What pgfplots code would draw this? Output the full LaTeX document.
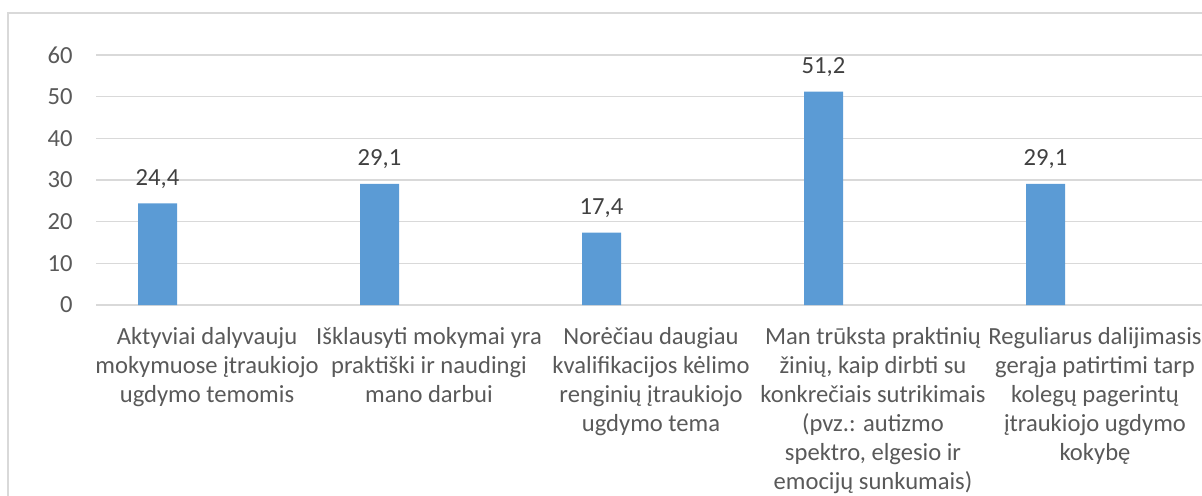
\documentclass[border=0pt]{standalone}
\usepackage{fontspec}
\setmainfont{Carlito}
\usepackage{pgfplots}
\pgfplotsset{compat=1.18}
\definecolor{barblue}{HTML}{5B9BD5}
\definecolor{gridgray}{HTML}{D9D9D9}
\definecolor{ticktext}{HTML}{595959}
\definecolor{labeltext}{HTML}{404040}
\begin{document}
\begin{tikzpicture}
\useasboundingbox (0pt,0pt) rectangle (601pt,247.5pt);
\draw[gridgray, line width=0.8pt] (4pt,-5pt) -- (4pt,241pt) -- (605pt,241pt);
\begin{axis}[
  at={(48pt,95pt)}, anchor=south west,
  scale only axis, width=555pt, height=125pt,
  xmin=-0.5, xmax=4.5, ymin=0, ymax=60,
  ytick={0,10,...,60},
  xtick={0,1,2,3,4},
  xticklabels={
    {Aktyviai dalyvauju\\mokymuose įtraukiojo\\ugdymo temomis},
    {Išklausyti mokymai yra\\praktiški ir naudingi\\mano darbui},
    {Norėčiau daugiau\\kvalifikacijos kėlimo\\renginių įtraukiojo\\ugdymo tema},
    {Man trūksta praktinių\\žinių, kaip dirbti su\\konkrečiais sutrikimais\\(pvz.: autizmo\\spektro, elgesio ir\\emocijų sunkumais)},
    {Reguliarus dalijimasis\\gerąja patirtimi tarp\\kolegų pagerintų\\įtraukiojo ugdymo\\kokybę}
  },
  axis line style={draw=none},
  ymajorgrids, grid style={gridgray, line width=0.8pt},
  major tick length=0pt,
  clip=false,
  /pgf/number format/assume math mode=true,
  yticklabel style={font=\fontsize{12.3}{14.5}\selectfont, color=ticktext, anchor=east, inner sep=0pt, xshift=-11.5pt},
  xticklabel style={font=\fontsize{12.3}{14.5}\selectfont, color=ticktext, anchor=north, align=center, inner sep=0pt, yshift=-10.8pt,
    execute at begin node={\setlength{\baselineskip}{14.5pt}}},
  ybar, bar width=19.5pt, bar shift=-24.75pt,
  nodes near coords,
  nodes near coords style={font=\fontsize{12.3}{14.5}\selectfont, color=labeltext, anchor=base, inner sep=0pt, yshift=9pt,
    /pgf/number format/.cd, use comma, fixed, precision=1, fixed zerofill, assume math mode=true},
]
\addplot[fill=barblue, draw=none] coordinates {(0,24.4) (1,29.1) (2,17.4) (3,51.2) (4,29.1)};
\end{axis}
\end{tikzpicture}
\end{document}
